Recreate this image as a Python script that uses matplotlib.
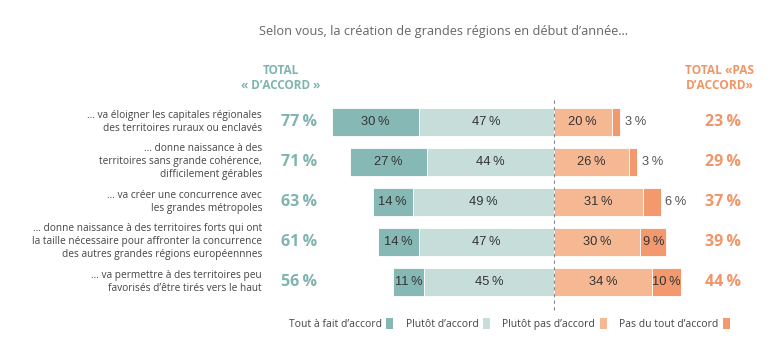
import matplotlib.pyplot as plt
from matplotlib.patches import Patch

# data
labels = [
    "… va éloigner les capitales régionales\ndes territoires ruraux ou enclavés",
    "… donne naissance à des\nterritoires sans grande cohérence,\ndifficilement gérables",
    "… va créer une concurrence avec\nles grandes métropoles",
    "… donne naissance à des territoires forts qui ont\nla taille nécessaire pour affronter la concurrence\ndes autres grandes régions européennnes",
    "… va permettre à des territoires peu\nfavorisés d’être tirés vers le haut",
]
tout_a_fait = [30, 27, 14, 14, 11]
plutot = [47, 44, 49, 47, 45]
plutot_pas = [20, 26, 31, 30, 34]
pas_du_tout = [3, 3, 6, 9, 10]
total_accord = [77, 71, 63, 61, 56]
total_pas = [23, 29, 37, 39, 44]
legend_labels = ["Tout à fait d’accord", "Plutôt d’accord", "Plutôt pas d’accord", "Pas du tout d’accord"]

c_dark_teal = "#86b9b6"
c_light_teal = "#c6ddda"
c_light_orange = "#f6b893"
c_dark_orange = "#f29a6e"
c_teal_txt = "#7fb4b0"
c_orange_txt = "#f19567"

TXT = ["Open Sans", "DejaVu Sans"]
NUM = ["Liberation Sans", "DejaVu Sans"]
SP = "\u2009"

fig = plt.figure(figsize=(7.8, 3.43), dpi=100)
ax = fig.add_axes([0, 0, 1, 1])
ax.set_xlim(-192.4, 78.5)
ax.set_ylim(5.525, -3.05)
ax.axis("off")

y = list(range(len(labels)))
h = 0.7
left1 = [-(a + b) for a, b in zip(tout_a_fait, plutot)]
left2 = [-b for b in plutot]
ax.barh(y, tout_a_fait, left=left1, height=h, color=c_dark_teal, edgecolor="white", linewidth=0.6)
ax.barh(y, plutot, left=left2, height=h, color=c_light_teal, edgecolor="white", linewidth=0.6)
ax.barh(y, plutot_pas, left=0, height=h, color=c_light_orange, edgecolor="white", linewidth=0.6)
ax.barh(y, pas_du_tout, left=plutot_pas, height=h, color=c_dark_orange, edgecolor="white", linewidth=0.6)

ax.plot([0, 0], [-0.55, 4.75], color="#888888", lw=0.8, ls=(0, (3, 3)), zorder=5)

for i in y:
    ax.text(left1[i] + tout_a_fait[i] / 2, i, f"{tout_a_fait[i]}{SP}%", ha="center", va="center",
            fontsize=9.3, family=NUM, color="#333333")
    ax.text(-plutot[i] / 2, i, f"{plutot[i]}{SP}%", ha="center", va="center",
            fontsize=9.3, family=NUM, color="#333333")
    ax.text(plutot_pas[i] / 2, i, f"{plutot_pas[i]}{SP}%", ha="center", va="center",
            fontsize=9.3, family=NUM, color="#333333")
    if pas_du_tout[i] <= 6:
        ax.text(plutot_pas[i] + pas_du_tout[i] + 1.5, i, f"{pas_du_tout[i]}{SP}%", ha="left", va="center",
                fontsize=9.3, family=NUM, color="#555555")
    else:
        ax.text(plutot_pas[i] + pas_du_tout[i] / 2, i, f"{pas_du_tout[i]}{SP}%", ha="center", va="center",
                fontsize=9.3, family=NUM, color="#333333")
    ax.text(-101.4, i, labels[i], ha="right", va="center", fontsize=7.25, family=TXT,
            color="#444444", linespacing=1.25)
    ax.text(-88.5, i, f"{total_accord[i]}{SP}%", ha="center", va="center", fontsize=11.5,
            family=TXT, weight="bold", color=c_teal_txt)
    ax.text(58.8, i, f"{total_pas[i]}{SP}%", ha="center", va="center", fontsize=11.5,
            family=TXT, weight="bold", color=c_orange_txt)

fig.text(0.568, 0.908, "Selon vous, la création de grandes régions en début d’année…", ha="center",
         va="center", fontsize=9.2, family=TXT, color="#666666")
fig.text(0.360, 0.773, "TOTAL\n« D’ACCORD »", ha="center", va="center", fontsize=8.5,
         family=TXT, weight="bold", color=c_teal_txt, linespacing=1.15)
fig.text(0.923, 0.773, "TOTAL «PAS\nD’ACCORD»", ha="center", va="center", fontsize=8.6,
         family=TXT, weight="bold", color=c_orange_txt, linespacing=1.15, multialignment="left")

handles = [Patch(facecolor=c) for c in [c_dark_teal, c_light_teal, c_light_orange, c_dark_orange]]
leg = fig.legend(handles, legend_labels, loc="center", bbox_to_anchor=(0.653, 0.055), ncol=4,
                 frameon=False, markerfirst=False, handlelength=0.65, handleheight=1.3,
                 handletextpad=0.45, columnspacing=1.2, prop={"family": TXT, "size": 7.5})
for t in leg.get_texts():
    t.set_color("#444444")

fig.savefig("out.png", dpi=100)
